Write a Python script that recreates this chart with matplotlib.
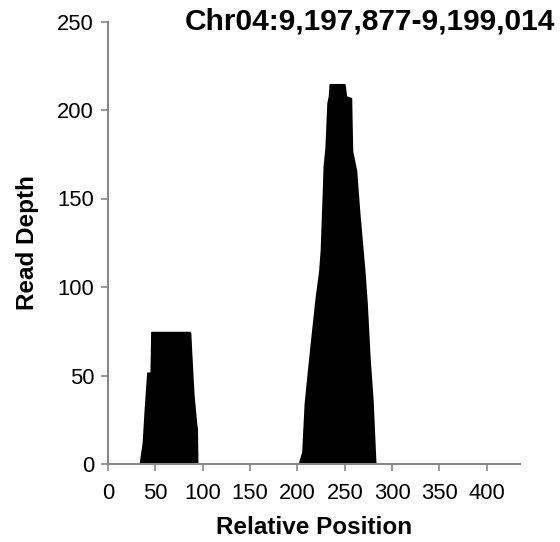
import matplotlib
matplotlib.use('Agg')
import matplotlib.pyplot as plt

plt.rcParams['font.family'] = ['Liberation Sans', 'DejaVu Sans']

# Datos (posicion relativa, profundidad de lectura)
left_pos = [32, 33, 36, 38, 40.8, 44.3, 45, 86.6, 87.5, 88.4, 90.8, 93.7, 94.5, 95]
left_depth = [0, 1, 12, 30, 52, 52, 75, 75, 74, 64, 40, 23, 20, 0]

right_pos = [201, 201.7, 204.5, 207, 210.5, 215, 218.6, 222.3, 224, 226.3, 227,
             229, 231, 232.5, 233.4, 250.3, 252, 257.3, 258.4, 262.6, 266,
             271.4, 273.8, 276.7, 280, 283]
right_depth = [0, 2, 7, 34, 53, 76, 94, 109, 121, 156, 168,
               179, 204, 208, 215, 215, 208, 207, 177, 166, 142,
               109, 91, 61, 36, 0]

x_ticks = [0, 50, 100, 150, 200, 250, 300, 350, 400]
y_ticks = [0, 50, 100, 150, 200, 250]
titulo = 'Chr04:9,197,877-9,199,014'

fig = plt.figure(figsize=(5.6, 5.42), dpi=100)
ax = fig.add_axes([108 / 560, (542 - 464) / 542, (520 - 108) / 560, (464 - 21.5) / 542])

ax.fill_between(left_pos, left_depth, color='black', lw=0)
ax.fill_between(right_pos, right_depth, color='black', lw=0)

ax.set_xlim(0, 435)
ax.set_ylim(0, 250)
ax.set_xticks(x_ticks)
ax.set_yticks(y_ticks)

axis_color = '#888888'
for lado in ['top', 'right']:
    ax.spines[lado].set_visible(False)
for lado in ['left', 'bottom']:
    ax.spines[lado].set_color(axis_color)
    ax.spines[lado].set_linewidth(1.5)

ax.tick_params(axis='both', direction='out', length=5, width=1.2, color=axis_color,
               labelsize=15.8, labelcolor='black')
ax.tick_params(axis='y', pad=5)
ax.tick_params(axis='x', pad=9)

ax.set_xlabel('Relative Position', fontsize=17.5, fontweight='bold', labelpad=8)
ax.set_ylabel('Read Depth', fontsize=17.5, fontweight='bold', labelpad=13)

fig.text(555 / 560, 1 - 21 / 542, titulo, ha='right', va='center',
         fontsize=21.5, fontweight='bold')

fig.savefig('out.png', dpi=100)
